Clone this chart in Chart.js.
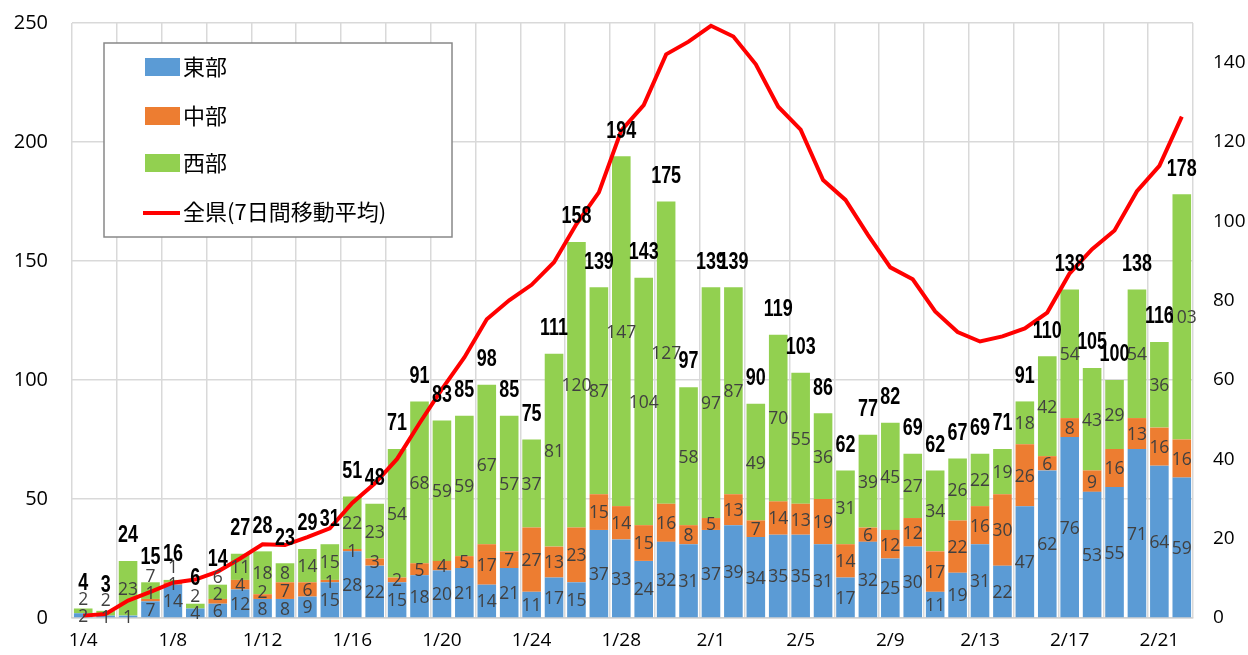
<!DOCTYPE html>
<html>
<head>
<meta charset="utf-8">
<script src="https://cdn.jsdelivr.net/npm/chart.js@4.4.1/dist/chart.umd.min.js"></script>
<style>
html,body{margin:0;padding:0;background:#fff;}
#wrap{width:1248px;height:655px;position:relative;}
</style>
</head>
<body>
<div id="wrap"><canvas id="c" width="1248" height="655"></canvas></div>
<script>
const categories = ['1/4','1/5','1/6','1/7','1/8','1/9','1/10','1/11','1/12','1/13','1/14','1/15','1/16','1/17','1/18','1/19','1/20','1/21','1/22','1/23','1/24','1/25','1/26','1/27','1/28','1/29','1/30','1/31','2/1','2/2','2/3','2/4','2/5','2/6','2/7','2/8','2/9','2/10','2/11','2/12','2/13','2/14','2/15','2/16','2/17','2/18','2/19','2/20','2/21','2/22'];
const east = [2,1,1,7,14,4,6,12,8,8,9,15,28,22,15,18,20,21,14,21,11,17,15,37,33,24,32,31,37,39,34,35,35,31,17,32,25,30,11,19,31,22,47,62,76,53,55,71,64,59];
const central = [0,0,0,1,1,0,2,4,2,7,6,1,1,3,2,5,4,5,17,7,27,13,23,15,14,15,16,8,5,13,7,14,13,19,14,6,12,12,17,22,16,30,26,6,8,9,16,13,16,16];
const west = [2,2,23,7,1,2,6,11,18,8,14,15,22,23,54,68,59,59,67,57,37,81,120,87,147,104,127,58,97,87,49,70,55,36,31,39,45,27,34,26,22,19,18,42,54,43,29,54,36,103];
const avg7 = [0.6,1.0,4.4,6.6,8.9,9.7,11.7,15.0,18.6,18.4,20.4,22.6,29.0,33.9,40.1,49.1,57.7,65.7,75.3,80.1,84.0,89.7,99.3,107.3,122.9,129.3,142.1,145.3,149.3,146.6,139.6,128.9,123.1,110.4,105.4,96.6,88.4,85.4,77.3,72.1,69.7,71.0,73.0,77.0,86.9,93.0,97.7,107.6,114.0,126.4];
const seriesNames = ['東部','中部','西部','全県(7日間移動平均)'];
const leftTicks = [0,50,100,150,200,250];
const rightTicks = [0,20,40,60,80,100,120,140];

const colors = {east:'#5B9BD5', central:'#ED7D31', west:'#92D050', line:'#FF0000'};
const tickFont = {family:"'Open Sans','Liberation Sans',sans-serif", size:19};

const labelPlugin = {
  id:'labelPlugin',
  afterDatasetsDraw(chart){
    const ctx = chart.ctx;
    ctx.save();
    ctx.textAlign='center';
    ctx.textBaseline='middle';
    ctx.font = "19px 'Open Sans','Liberation Sans',sans-serif";
    ctx.fillStyle='#404040';
    const metas = [0,1,2].map(d=>chart.getDatasetMeta(d));
    const n = categories.length;
    for(let i=0;i<n;i++){
      let prev = Infinity;
      for(let d=0; d<3; d++){
        const v = chart.data.datasets[d].data[i];
        if(!v) continue;
        const el = metas[d].data[i];
        let y = (el.y+el.base)/2+1;
        if(y > prev-17) y = prev-17;
        const t = String(v);
        ctx.save();
        ctx.translate(el.x, y);
        ctx.scale(0.92,1);
        ctx.fillText(t,0,0);
        ctx.restore();
        prev = y;
      }
    }
    ctx.font = "bold 23px 'Liberation Sans',sans-serif";
    ctx.fillStyle='#000';
    metas[2].data.forEach((el,i)=>{
      const tot = east[i]+central[i]+west[i];
      ctx.save();
      ctx.translate(el.x, el.y-25);
      ctx.scale(0.78,1);
      ctx.fillText(String(tot),0,0);
      ctx.restore();
    });
    ctx.restore();
  },
  afterDraw(chart){
    const ctx = chart.ctx;
    ctx.save();
    const bx=104, by=43, bw=348, bh=194;
    ctx.fillStyle='#fff';
    ctx.fillRect(bx,by,bw,bh);
    ctx.strokeStyle='#888';
    ctx.lineWidth=1.5;
    ctx.strokeRect(bx,by,bw,bh);
    const rows=[67,116,163,212];
    const sw=[colors.east,colors.central,colors.west];
    ctx.font="22px 'Noto Sans CJK JP',sans-serif";
    ctx.textBaseline='middle';
    ctx.textAlign='left';
    for(let k=0;k<4;k++){
      if(k<3){
        ctx.fillStyle=sw[k];
        ctx.fillRect(145,rows[k]-9,35,18);
      } else {
        ctx.strokeStyle=colors.line;
        ctx.lineWidth=4;
        ctx.beginPath();ctx.moveTo(143,rows[k]+1);ctx.lineTo(180,rows[k]+1);ctx.stroke();
      }
      ctx.fillStyle='#000';
      ctx.fillText(seriesNames[k],183,rows[k]);
    }
    ctx.restore();
  }
};

function fixV(w){
  return (s)=>{ s.width=w; s.paddingTop=0; s.paddingBottom=0; };
}

new Chart(document.getElementById('c'),{
  type:'bar',
  data:{
    labels:categories,
    datasets:[
      {label:seriesNames[0],data:east,backgroundColor:colors.east,stack:'s',order:1,barPercentage:0.83,categoryPercentage:1},
      {label:seriesNames[1],data:central,backgroundColor:colors.central,stack:'s',order:1,barPercentage:0.83,categoryPercentage:1},
      {label:seriesNames[2],data:west,backgroundColor:colors.west,stack:'s',order:1,barPercentage:0.83,categoryPercentage:1},
      {label:seriesNames[3],type:'line',data:avg7,yAxisID:'y1',borderColor:colors.line,borderWidth:4,pointRadius:0,tension:0,order:0,fill:false}
    ]
  },
  options:{
    responsive:false,
    animation:false,
    layout:{padding:{top:23,left:0,right:0,bottom:0}},
    plugins:{legend:{display:false},tooltip:{enabled:false}},
    scales:{
      x:{
        stacked:true,
        grid:{offset:true,drawTicks:false,lineWidth:1.5,color:(c)=> (c.index===undefined || c.index%2===0) ? '#d9d9d9' : 'rgba(0,0,0,0)'},
        border:{display:true,color:'#d0d0d0',width:1.5},
        ticks:{autoSkip:false,maxRotation:0,minRotation:0,padding:11,color:'#000',font:tickFont,
          callback:(v,i)=> i%4===0 ? categories[i] : ''},
        afterFit:(s)=>{s.height=37; s.paddingLeft=0; s.paddingRight=0;}
      },
      y:{
        stacked:true,min:0,max:250,
        grid:{drawTicks:false,color:'#d9d9d9',lineWidth:1.5},
        border:{display:false},
        ticks:{stepSize:50,padding:24,color:'#000',font:{family:tickFont.family,size:20},
          callback:(v)=> leftTicks.includes(v) ? String(v) : ''},
        afterFit:fixV(72)
      },
      y1:{
        position:'right',min:0,max:150,
        grid:{drawOnChartArea:false,drawTicks:false},
        border:{display:false},
        ticks:{stepSize:20,padding:20,color:'#000',font:tickFont,
          callback:(v)=> rightTicks.includes(v) ? String(v) : ''},
        afterFit:fixV(55)
      }
    }
  },
  plugins:[labelPlugin]
});
</script>
</body>
</html>
